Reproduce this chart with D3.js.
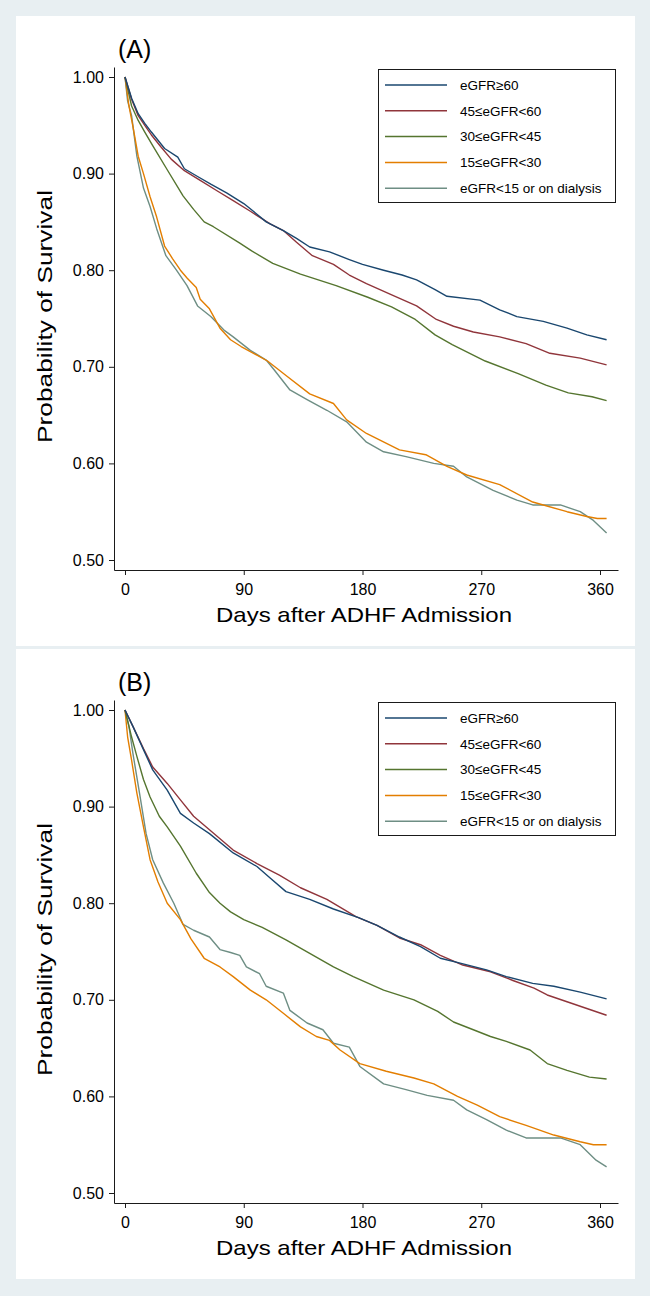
<!DOCTYPE html>
<html><head><meta charset="utf-8">
<script src="https://cdn.jsdelivr.net/npm/d3@7"></script>
<style>body{margin:0;background:#e8eff2}svg{display:block}</style>
</head><body><svg id="c" width="650" height="1296"></svg>
<script>
// ---------- data ----------
const seriesNames = ["eGFR\u226560", "45\u2264eGFR<60", "30\u2264eGFR<45", "15\u2264eGFR<30", "eGFR<15 or on dialysis"];
const seriesColors = ["#1a476f", "#90353b", "#55752f", "#e37e00", "#6e8e84"];
const xTicks = [0, 90, 180, 270, 360];
const yTicks = [0.5, 0.6, 0.7, 0.8, 0.9, 1.0];
const panelLabels = ["(A)", "(B)"];
const xTitle = "Days after ADHF Admission";
const yTitle = "Probability of Survival";

// Panel A: [day, survival]
const a_ge60 = [[0,1],[5,0.978],[10,0.962],[15,0.952],[20,0.943],[30,0.926],[40,0.917],[45,0.905],[55,0.897],[65,0.889],[77,0.880],[90,0.869],[100,0.858],[107,0.850],[120,0.841],[130,0.833],[140,0.824],[155,0.819],[170,0.811],[180,0.806],[196,0.800],[210,0.795],[221,0.790],[235,0.780],[244,0.773],[269,0.769],[284,0.759],[297,0.752],[317,0.747],[335,0.740],[350,0.733],[365,0.728]];
const a_45_60 = [[0,1],[5,0.977],[10,0.960],[15,0.950],[20,0.940],[27,0.928],[35,0.915],[45,0.903],[57,0.893],[70,0.882],[82,0.872],[95,0.861],[110,0.848],[120,0.841],[130,0.829],[142,0.815],[158,0.806],[170,0.795],[183,0.786],[203,0.774],[221,0.763],[236,0.749],[249,0.742],[264,0.736],[284,0.731],[304,0.724],[322,0.714],[345,0.709],[365,0.702]];
const a_30_45 = [[0,1],[5,0.970],[10,0.955],[15,0.943],[21,0.929],[32,0.904],[44,0.877],[52,0.863],[60,0.850],[67,0.845],[87,0.828],[96,0.820],[112,0.807],[133,0.796],[160,0.784],[184,0.772],[202,0.762],[220,0.749],[235,0.733],[248,0.723],[273,0.706],[298,0.693],[319,0.681],[336,0.673],[354,0.669],[365,0.665]];
const a_15_30 = [[0,1],[3,0.970],[6,0.949],[10,0.918],[14,0.900],[19,0.876],[24,0.855],[30,0.825],[36,0.812],[42,0.800],[47,0.792],[54,0.782],[57,0.770],[64,0.760],[72,0.740],[80,0.728],[88,0.721],[100,0.712],[108,0.706],[123,0.690],[140,0.672],[158,0.662],[168,0.645],[183,0.631],[208,0.614],[228,0.609],[244,0.597],[259,0.588],[284,0.578],[309,0.560],[335,0.550],[350,0.545],[358,0.543],[365,0.543]];
const a_lt15 = [[0,1],[2,0.975],[5,0.960],[9,0.918],[14,0.885],[19,0.866],[24,0.843],[31,0.815],[39,0.800],[47,0.784],[55,0.763],[65,0.752],[75,0.738],[82,0.731],[95,0.717],[107,0.707],[113,0.697],[125,0.676],[138,0.666],[153,0.655],[168,0.643],[183,0.622],[196,0.612],[213,0.607],[234,0.600],[249,0.597],[259,0.586],[279,0.572],[297,0.562],[309,0.557],[330,0.557],[345,0.550],[355,0.541],[365,0.528]];

// Panel B: [day, survival]
const b_ge60 = [[0,1],[6,0.983],[14,0.959],[21,0.938],[32,0.917],[42,0.893],[52,0.883],[64,0.872],[82,0.852],[100,0.838],[110,0.826],[122,0.812],[140,0.804],[158,0.794],[177,0.785],[191,0.777],[208,0.765],[224,0.755],[239,0.743],[254,0.738],[274,0.731],[289,0.724],[309,0.717],[325,0.714],[345,0.708],[365,0.701]];
const b_45_60 = [[0,1],[6,0.983],[14,0.960],[21,0.941],[32,0.924],[42,0.907],[52,0.890],[64,0.876],[82,0.855],[100,0.841],[117,0.829],[133,0.816],[153,0.804],[175,0.786],[191,0.777],[208,0.764],[224,0.757],[239,0.746],[256,0.736],[277,0.729],[294,0.720],[310,0.712],[320,0.705],[335,0.698],[350,0.691],[365,0.684]];
const b_30_45 = [[0,1],[5,0.972],[9,0.952],[14,0.928],[19,0.910],[26,0.890],[32,0.879],[42,0.859],[54,0.831],[64,0.811],[72,0.800],[80,0.791],[90,0.783],[104,0.775],[122,0.762],[140,0.748],[158,0.734],[173,0.724],[196,0.710],[219,0.700],[237,0.688],[249,0.677],[264,0.669],[277,0.662],[289,0.657],[307,0.648],[320,0.634],[335,0.627],[352,0.620],[365,0.618]];
const b_15_30 = [[0,1],[2,0.972],[5,0.948],[9,0.914],[14,0.879],[19,0.845],[25,0.822],[32,0.800],[42,0.783],[50,0.763],[60,0.743],[72,0.734],[82,0.724],[95,0.710],[107,0.700],[120,0.686],[133,0.672],[145,0.662],[155,0.658],[163,0.648],[178,0.634],[198,0.626],[219,0.619],[234,0.613],[252,0.600],[267,0.591],[284,0.579],[304,0.570],[325,0.560],[345,0.553],[355,0.550],[365,0.550]];
const b_lt15 = [[0,1],[3,0.983],[6,0.955],[11,0.914],[16,0.872],[21,0.845],[29,0.821],[37,0.800],[44,0.778],[52,0.772],[64,0.765],[72,0.752],[80,0.749],[87,0.746],[92,0.734],[102,0.727],[107,0.714],[120,0.707],[125,0.689],[138,0.676],[150,0.669],[158,0.655],[170,0.651],[178,0.631],[196,0.613],[213,0.607],[229,0.601],[249,0.596],[259,0.586],[274,0.576],[289,0.565],[304,0.557],[330,0.557],[345,0.550],[357,0.534],[365,0.527]];

const panels = [
  {label: panelLabels[0], series: [a_ge60, a_45_60, a_30_45, a_15_30, a_lt15]},
  {label: panelLabels[1], series: [b_ge60, b_45_60, b_30_45, b_15_30, b_lt15]}
];

// ---------- drawing ----------
const svg = d3.select("#c");
const font = "'Liberation Sans', Arial, Helvetica, sans-serif";
const panelOffset = 633;

// white panels
svg.append("rect").attr("x", 16).attr("y", 16).attr("width", 619).attr("height", 630).attr("fill", "#fff");
svg.append("rect").attr("x", 16).attr("y", 649).attr("width", 619).attr("height", 630).attr("fill", "#fff");

const x = d3.scaleLinear().domain([0, 360]).range([125, 600]);
const y = d3.scaleLinear().domain([0.5, 1.0]).range([560, 77]);
const xAxisScale = d3.scaleLinear().domain([x.invert(114), x.invert(618)]).range([114, 618]);
const yAxisScale = d3.scaleLinear().domain([y.invert(570), y.invert(67)]).range([570, 67]);

const line = d3.line().x(d => x(d[0])).y(d => y(d[1])).curve(d3.curveLinear);

panels.forEach((p, pi) => {
  const g = svg.append("g").attr("transform", `translate(0,${pi * panelOffset})`);

  // panel label
  g.append("text").attr("x", 118).attr("y", 58).attr("font-family", font).attr("font-size", 25)
    .attr("fill", "#000").text(p.label);

  // axes
  const xa = g.append("g").attr("transform", "translate(0,570)")
    .call(d3.axisBottom(xAxisScale).tickValues(xTicks).tickSize(5).tickPadding(9).tickSizeOuter(0));
  const ya = g.append("g").attr("transform", "translate(114,0)")
    .call(d3.axisLeft(yAxisScale).tickValues(yTicks).tickFormat(d3.format(".2f")).tickSize(5).tickPadding(5).tickSizeOuter(0));
  [xa, ya].forEach(a => {
    a.selectAll("path,line").attr("stroke", "#1a1a1a").attr("stroke-width", 1);
    a.selectAll("text").attr("font-family", font).attr("font-size", 16).attr("fill", "#000");
  });

  // titles
  g.append("text").attr("x", 364).attr("y", 622).attr("text-anchor", "middle")
    .attr("font-family", font).attr("font-size", 21).attr("fill", "#000")
    .attr("textLength", 296).attr("lengthAdjust", "spacingAndGlyphs").text(xTitle);
  g.append("text").attr("transform", "translate(52,316.5) rotate(-90)").attr("text-anchor", "middle")
    .attr("font-family", font).attr("font-size", 21).attr("fill", "#000")
    .attr("textLength", 253).attr("lengthAdjust", "spacingAndGlyphs").text(yTitle);

  // curves (draw last series first so blue is on top like reference)
  const order = [4, 3, 2, 1, 0];
  order.forEach(i => {
    g.append("path").datum(p.series[i]).attr("d", line)
      .attr("fill", "none").attr("stroke", seriesColors[i]).attr("stroke-width", 1.4)
      .attr("stroke-linejoin", "round");
  });

  // legend
  const lg = g.append("g");
  lg.append("rect").attr("x", 378.5).attr("y", 69.5).attr("width", 237).attr("height", 133)
    .attr("fill", "#fff").attr("stroke", "#1a1a1a").attr("stroke-width", 1);
  seriesNames.forEach((nm, i) => {
    const ry = 85 + i * 25.8;
    lg.append("line").attr("x1", 385).attr("x2", 447).attr("y1", ry).attr("y2", ry)
      .attr("stroke", seriesColors[i]).attr("stroke-width", 1.5);
    lg.append("text").attr("x", 460).attr("y", ry).attr("dy", "0.35em")
      .attr("font-family", font).attr("font-size", 13.5).attr("fill", "#000").text(nm);
  });
});
</script>
</body></html>
